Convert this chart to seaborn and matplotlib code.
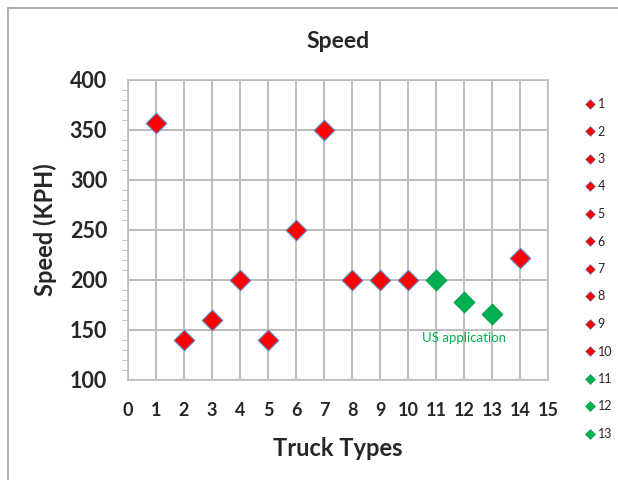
import matplotlib
matplotlib.use("Agg")
import matplotlib.pyplot as plt
from matplotlib.lines import Line2D
from matplotlib.ticker import MultipleLocator
import seaborn as sns
import pandas as pd

truck_types = [1, 2, 3, 4, 5, 6, 7, 8, 9, 10, 11, 12, 13, 14]
speeds = [357, 140, 160, 200, 140, 250, 350, 200, 200, 200, 200, 178, 166, 222]
groups = ["other"] * 10 + ["US"] * 3 + ["other"]
legend_labels = [str(i) for i in range(1, 14)]
group_colors = {"other": "#FF0000", "US": "#00B050"}
edge_colors = {"other": "#5B8BD0", "US": "#00A04A"}

df = pd.DataFrame({"type": truck_types, "speed": speeds, "group": groups})

sns.set_style("white")
plt.rcParams["font.family"] = ["Lato", "DejaVu Sans"]

fig = plt.figure(figsize=(6.18, 4.80), dpi=100)
ax = fig.add_axes([128 / 618, 1 - 380 / 480, 420 / 618, 300 / 480])

for g in ["other", "US"]:
    sub = df[df["group"] == g]
    sns.scatterplot(data=sub, x="type", y="speed", color=group_colors[g],
                    marker="D", s=110, edgecolor=edge_colors[g], linewidth=0.8,
                    ax=ax, legend=False, zorder=3)

ax.set_xlim(0, 15)
ax.set_ylim(100, 400)
ax.xaxis.set_major_locator(MultipleLocator(1))
ax.yaxis.set_major_locator(MultipleLocator(50))
ax.yaxis.set_minor_locator(MultipleLocator(10))
ax.grid(True, which="major", color="#BDBDBD", linewidth=1.4)
ax.set_axisbelow(True)
for side in ["top", "right", "left", "bottom"]:
    ax.spines[side].set_color("#BDBDBD")
    ax.spines[side].set_linewidth(1.2)
ax.tick_params(axis="y", which="major", labelsize=15.5, length=0, pad=15)
ax.tick_params(axis="y", which="minor", left=True, length=4, color="#BDBDBD")
ax.tick_params(axis="x", which="major", labelsize=13, length=0, pad=16)
for lab in ax.get_yticklabels() + ax.get_xticklabels():
    lab.set_fontweight("bold")

ax.set_xlabel("Truck Types", fontsize=17, fontweight="bold", labelpad=13)
ax.set_ylabel("Speed (KPH)", fontsize=17, fontweight="bold", labelpad=9)
ax.set_title("Speed", fontsize=16.5, fontweight="bold", pad=23)

ax.text(12.0, 142, "US application", color="#00B050", fontsize=9.5,
        ha="center", va="center")

handles = []
for i, lab in enumerate(legend_labels):
    g = groups[i]
    handles.append(Line2D([0], [0], marker="D", linestyle="none", markersize=5,
                          markerfacecolor=group_colors[g], markeredgecolor=edge_colors[g],
                          markeredgewidth=0.4, label=lab))
fig.legend(handles=handles, loc="upper left", bbox_to_anchor=(580 / 618, 1 - 93 / 480),
           frameon=False, fontsize=9, handlelength=0.8, handletextpad=0.2,
           labelspacing=1.24, borderaxespad=0)

fig.add_artist(Line2D([8 / 618, 8 / 618], [0, 1 - 8 / 480], color="#A0A0A0",
                      linewidth=1.2, transform=fig.transFigure))
fig.add_artist(Line2D([8 / 618, 1], [1 - 8 / 480, 1 - 8 / 480], color="#A0A0A0",
                      linewidth=1.2, transform=fig.transFigure))

fig.savefig("out.png", dpi=100)
